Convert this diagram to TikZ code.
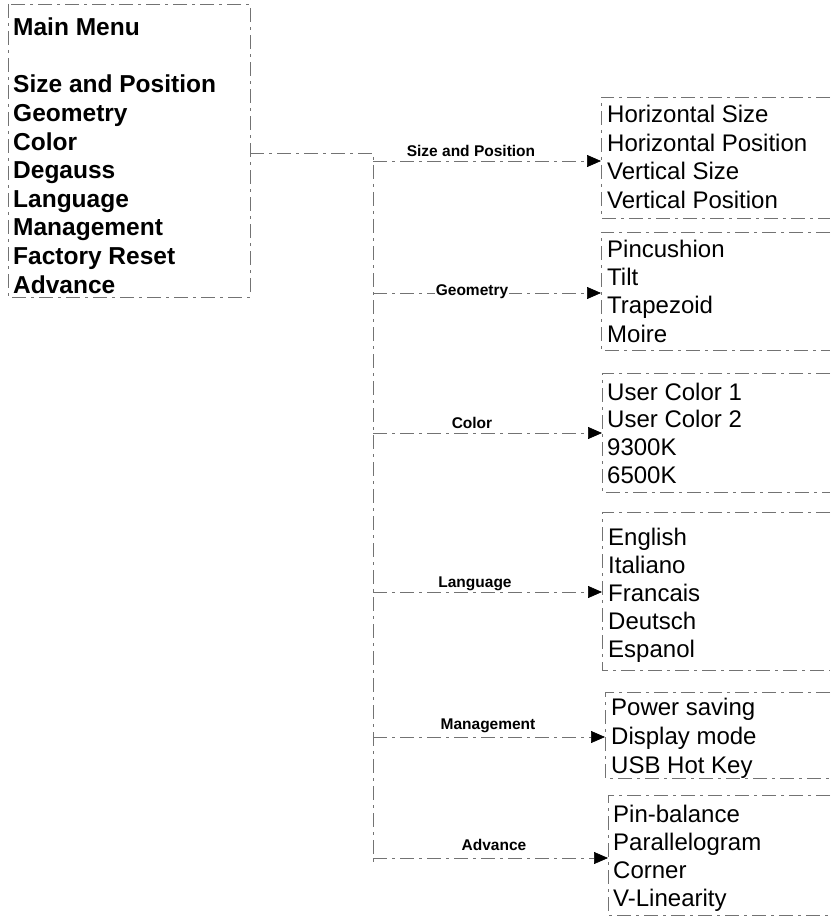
\documentclass[tikz,border=0pt]{standalone}
\usepackage{fontspec}
\setmainfont{Liberation Sans}
\usetikzlibrary{arrows.meta}
\begin{document}
\begin{tikzpicture}[x=1pt,y=-1pt,
  frame/.style={draw=black!55, line width=0.7pt, dash pattern=on 14pt off 5pt on 3pt off 5pt},
  conn/.style={frame, -{Triangle[length=14pt,width=12pt,color=black,fill=black]}},
  mainitem/.style={anchor=base west, inner sep=0pt, font=\fontsize{24.5}{24.5}\selectfont\bfseries},
  subitem/.style={anchor=base west, inner sep=0pt, font=\fontsize{24}{24}\selectfont},
  lbl/.style={anchor=base, inner sep=1pt, fill=white, font=\fontsize{15.5}{15.5}\selectfont\bfseries}]
\useasboundingbox (0,0) rectangle (830,917);

% main menu box
\draw[frame] (8,4) rectangle (250,297);
\node[mainitem] (mm) at (13,35.5) {Main Menu};
\node[mainitem] (m1) at (13,93) {Size and Position};
\node[mainitem] (m2) at (13,121.6) {Geometry};
\node[mainitem] (m3) at (13,150.2) {Color};
\node[mainitem] (m4) at (13,178.8) {Degauss};
\node[mainitem] (m5) at (13,207.4) {Language};
\node[mainitem] (m6) at (13,236) {Management};
\node[mainitem] (m7) at (13,264.6) {Factory Reset};
\node[mainitem] (m8) at (13,293.2) {Advance};

% trunk
\coordinate (mout) at (250,153);
\coordinate (ttop) at (373,153);
\coordinate (tbot) at (373,862);
\draw[frame] (mout) -- (ttop) -- (tbot);

% submenu boxes (open to the right)
\draw[frame] (830,97) -- (601,97) -- (601,218) -- (830,218);
\draw[frame] (830,232) -- (601,232) -- (601,350) -- (830,350);
\draw[frame] (830,373) -- (602,373) -- (602,492) -- (830,492);
\draw[frame] (830,512) -- (602,512) -- (602,670) -- (830,670);
\draw[frame] (830,692) -- (605,692) -- (605,778) -- (830,778);
\draw[frame] (830,795) -- (608,795) -- (608,915) -- (830,915);

% branch start and end points
\coordinate (t1) at (373,161);  \coordinate (b1) at (601,161);
\coordinate (t2) at (373,293);  \coordinate (b2) at (601,293);
\coordinate (t3) at (373,433);  \coordinate (b3) at (602,433);
\coordinate (t4) at (373,592);  \coordinate (b4) at (602,592);
\coordinate (t5) at (373,737);  \coordinate (b5) at (605,737);
\coordinate (t6) at (373,858);  \coordinate (b6) at (608,858);

\draw[conn] (t1) -- (b1);
\draw[conn] (t2) -- (b2);
\draw[conn] (t3) -- (b3);
\draw[conn] (t4) -- (b4);
\draw[conn] (t5) -- (b5);
\draw[conn] (t6) -- (b6);

% branch labels
\node[lbl] (l1) at (471,157) {Size and Position};
\node[lbl] (l2) at (472,295) {Geometry};
\node[lbl] (l3) at (472,428) {Color};
\node[lbl] (l4) at (475,587) {Language};
\node[lbl] (l5) at (488,729) {Management};
\node[lbl] (l6) at (494,850) {Advance};

% submenu items
\node[subitem] (s11) at (607,123) {Horizontal Size};
\node[subitem] (s12) at (607,151.5) {Horizontal Position};
\node[subitem] (s13) at (607,180) {Vertical Size};
\node[subitem] (s14) at (607,208) {Vertical Position};

\node[subitem] (s21) at (607,257) {Pincushion};
\node[subitem] (s22) at (607,285) {Tilt};
\node[subitem] (s23) at (607,313.5) {Trapezoid};
\node[subitem] (s24) at (607,342) {Moire};

\node[subitem] (s31) at (607,400) {User Color 1};
\node[subitem] (s32) at (607,427.7) {User Color 2};
\node[subitem] (s33) at (607,455.4) {9300K};
\node[subitem] (s34) at (607,483) {6500K};

\node[subitem] (s41) at (608,545) {English};
\node[subitem] (s42) at (608,573) {Italiano};
\node[subitem] (s43) at (608,601) {Francais};
\node[subitem] (s44) at (608,629) {Deutsch};
\node[subitem] (s45) at (608,657) {Espanol};

\node[subitem] (s51) at (611,715) {Power saving};
\node[subitem] (s52) at (611,744) {Display mode};
\node[subitem] (s53) at (611,773) {USB Hot Key};

\node[subitem] (s61) at (613,822) {Pin-balance};
\node[subitem] (s62) at (613,850) {Parallelogram};
\node[subitem] (s63) at (613,878) {Corner};
\node[subitem] (s64) at (613,906) {V-Linearity};
\end{tikzpicture}
\end{document}
